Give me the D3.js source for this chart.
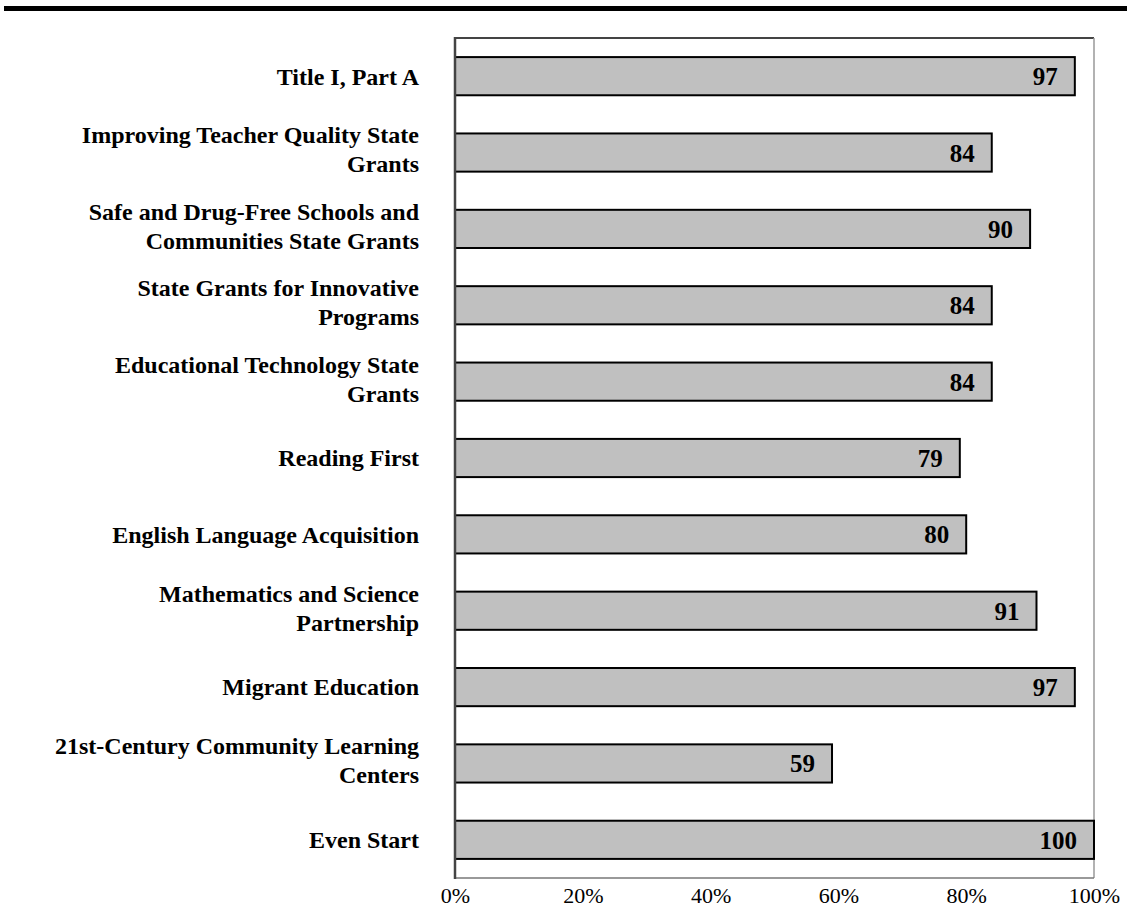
<!DOCTYPE html>
<html>
<head>
<meta charset="utf-8">
<script src="https://cdn.jsdelivr.net/npm/d3@7"></script>
<style>
  html, body { margin: 0; padding: 0; background: #fff; }
  svg { display: block; }
</style>
</head>
<body>
<svg id="chart" width="1127" height="909"></svg>
<script>
// Program names (each entry is a list of label lines)
const programs = [
  ["Title I, Part A"],
  ["Improving Teacher Quality State", "Grants"],
  ["Safe and Drug-Free Schools and", "Communities State Grants"],
  ["State Grants for Innovative", "Programs"],
  ["Educational Technology State", "Grants"],
  ["Reading First"],
  ["English Language Acquisition"],
  ["Mathematics and Science", "Partnership"],
  ["Migrant Education"],
  ["21st-Century Community Learning", "Centers"],
  ["Even Start"]
];
// Percentage values for each program
const percents = [97, 84, 90, 84, 84, 79, 80, 91, 97, 59, 100];
// X axis tick values
const tickValues = [0, 20, 40, 60, 80, 100];

const serif = "'Liberation Serif', 'Times New Roman', Times, serif";
const svg = d3.select("#chart");
const plot = { left: 455, right: 1094, top: 38, bottom: 878 };

const ids = programs.map((p, i) => i);
const x = d3.scaleLinear().domain([0, 100]).range([plot.left, plot.right]);
const y = d3.scaleBand().domain(ids).range([plot.top, plot.bottom]).paddingInner(0.5).paddingOuter(0.25);

// heavy rule across the top of the page
svg.append("rect").attr("x", 4).attr("y", 6).attr("width", 1123).attr("height", 5).attr("fill", "#000");

// plot frame
svg.append("line").attr("x1", plot.left).attr("x2", plot.right).attr("y1", plot.top).attr("y2", plot.top)
  .attr("stroke", "#444").attr("stroke-width", 2);
svg.append("line").attr("x1", plot.right).attr("x2", plot.right).attr("y1", plot.top).attr("y2", plot.bottom)
  .attr("stroke", "#999").attr("stroke-width", 1.5);
svg.append("line").attr("x1", plot.left).attr("x2", plot.right).attr("y1", plot.bottom).attr("y2", plot.bottom)
  .attr("stroke", "#777").attr("stroke-width", 1.5);

// bars
svg.append("g").selectAll("rect").data(ids).join("rect")
  .attr("x", x(0))
  .attr("y", i => y(i))
  .attr("width", i => x(percents[i]) - x(0))
  .attr("height", y.bandwidth())
  .attr("fill", "#c0c0c0")
  .attr("stroke", "#000")
  .attr("stroke-width", 2);

// left axis line
svg.append("line").attr("x1", plot.left).attr("x2", plot.left).attr("y1", plot.top - 1).attr("y2", plot.bottom + 1)
  .attr("stroke", "#444").attr("stroke-width", 2.5);

// value labels inside bar ends
svg.append("g").selectAll("text").data(ids).join("text")
  .attr("x", i => x(percents[i]) - 17)
  .attr("y", i => y(i) + y.bandwidth() / 2)
  .attr("dy", "0.36em")
  .attr("text-anchor", "end")
  .attr("font-family", serif)
  .attr("font-weight", "bold")
  .attr("font-size", 25)
  .attr("fill", "#000")
  .text(i => percents[i]);

// category labels
const lineH = 29;
const labels = svg.append("g").selectAll("text").data(ids).join("text")
  .attr("text-anchor", "end")
  .attr("font-family", serif)
  .attr("font-weight", "bold")
  .attr("font-size", 24)
  .attr("fill", "#000");
labels.each(function(i) {
  const lines = programs[i];
  const cy = y(i) + y.bandwidth() / 2 - (lines.length > 1 ? 3 : 0);
  const startY = cy - (lines.length - 1) * lineH / 2;
  d3.select(this).selectAll("tspan").data(lines).join("tspan")
    .attr("x", 419)
    .attr("y", (d, k) => startY + k * lineH)
    .attr("dy", "0.35em")
    .text(d => d);
});

// x axis tick labels
const xAxis = d3.axisBottom(x).tickValues(tickValues).tickSize(0).tickFormat(d => d + "%");
const gx = svg.append("g").attr("transform", `translate(0,${plot.bottom})`).call(xAxis);
gx.select(".domain").remove();
gx.selectAll("text")
  .attr("y", 25)
  .attr("dy", 0)
  .attr("font-family", serif)
  .attr("font-size", 22)
  .attr("fill", "#000");
</script>
</body>
</html>
